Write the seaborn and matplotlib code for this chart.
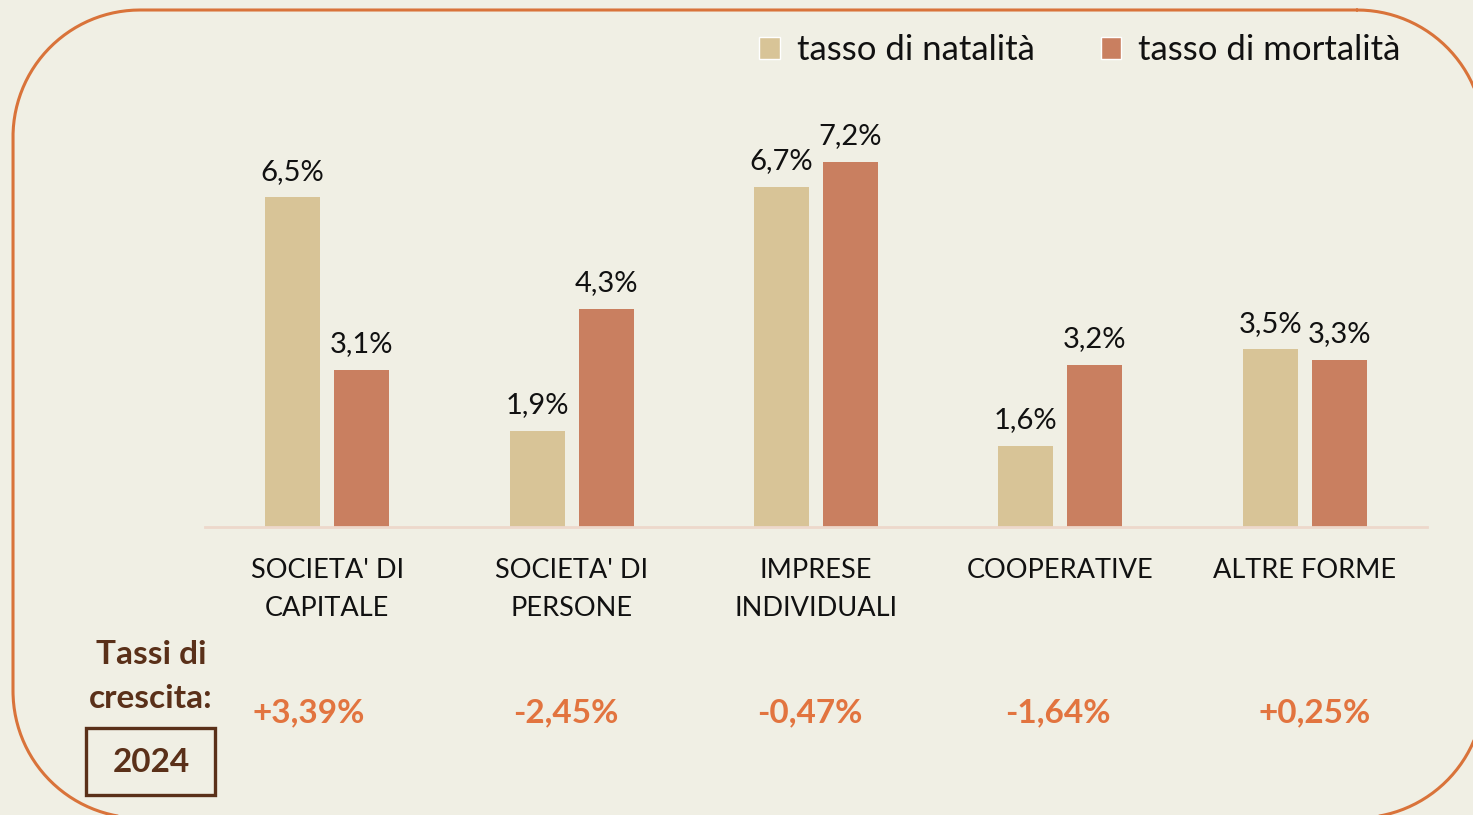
import matplotlib
matplotlib.use("Agg")
import matplotlib.pyplot as plt
from matplotlib.patches import Rectangle
import numpy as np
import seaborn as sns
import pandas as pd

# ---------------- data ----------------
categories = ["SOCIETA' DI\nCAPITALE", "SOCIETA' DI\nPERSONE", "IMPRESE\nINDIVIDUALI",
              "COOPERATIVE", "ALTRE FORME"]
natalita = [6.5, 1.9, 6.7, 1.6, 3.5]
mortalita = [3.1, 4.3, 7.2, 3.2, 3.3]
series_names = ["tasso di natalità", "tasso di mortalità"]
growth_labels = ["+3,39%", "-2,45%", "-0,47%", "-1,64%", "+0,25%"]
year_label = "2024"

# ---------------- style ----------------
BG = "#F0EFE4"
C_NAT = "#D8C497"
C_MOR = "#C97F60"
C_GROWTH = "#E2743F"
C_BORDER = "#D9733A"
C_BROWN = "#5A3019"
FONT = ["Lato", "DejaVu Sans"]

sns.set_theme(style="white")
plt.rcParams["font.family"] = FONT

W, H = 1473, 815
fig = plt.figure(figsize=(W / 100, H / 100), dpi=100)
fig.patch.set_facecolor(BG)

# background axis in pixel coordinates for the rounded frame
bg = fig.add_axes([0, 0, 1, 1], zorder=0)
bg.set_xlim(0, W)
bg.set_ylim(H, 0)
bg.axis("off")
bg.patch.set_alpha(0)


def rounded_rect(x0, y0, x1, y1, r, n=60):
    corners = [((x1 - r, y0 + r), -np.pi / 2, 0),
               ((x1 - r, y1 - r), 0, np.pi / 2),
               ((x0 + r, y1 - r), np.pi / 2, np.pi),
               ((x0 + r, y0 + r), np.pi, 1.5 * np.pi)]
    xs, ys = [], []
    for (cx, cy), a0, a1 in corners:
        t = np.linspace(a0, a1, n)
        xs.extend(cx + r * np.cos(t))
        ys.extend(cy + r * np.sin(t))
    xs.append(xs[0])
    ys.append(ys[0])
    return xs, ys


fx, fy = rounded_rect(13, 10, 1484, 818, 127)
bg.plot(fx, fy, color=C_BORDER, linewidth=2.2, solid_capstyle="round")

# main axis
ax = fig.add_axes([205 / W, (H - 527) / H, 1222 / W, 406 / H], zorder=1)
ax.patch.set_alpha(0)

df = pd.DataFrame({
    "categoria": categories * 2,
    "valore": natalita + mortalita,
    "serie": [series_names[0]] * len(categories) + [series_names[1]] * len(categories),
})

sns.barplot(data=df, x="categoria", y="valore", hue="serie", order=categories,
            hue_order=series_names, palette=[C_NAT, C_MOR], width=0.565, gap=0.2035,
            saturation=1, linewidth=0, ax=ax, legend=False)

ax.set_xlim(-0.5, len(categories) - 0.5)
ax.set_ylim(0, 8)
ax.set_xlabel("")
ax.set_ylabel("")
ax.set_yticks([])
for s in ["top", "right", "left"]:
    ax.spines[s].set_visible(False)
ax.spines["bottom"].set_color("#EDD8CB")
ax.spines["bottom"].set_linewidth(2)
ax.tick_params(axis="x", length=0, pad=22)
ax.set_xticks(range(len(categories)))
ax.set_xticklabels(categories, fontsize=19.5, color="#111111", linespacing=1.68,
                   va="top")

for cont in ax.containers:
    labels = [f"{v:.1f}".replace(".", ",") + "%" for v in cont.datavalues]
    ax.bar_label(cont, labels=labels, padding=9, fontsize=21, color="#111111")

# legend
handles = [Rectangle((0, 0), 1, 1, facecolor=C_NAT), Rectangle((0, 0), 1, 1, facecolor=C_MOR)]
fig.legend(handles, series_names, loc="center", ncol=2, frameon=False,
           bbox_to_anchor=(1080 / W, 1 - 50 / H), fontsize=25,
           handlelength=0.58, handleheight=0.58, handletextpad=0.5,
           columnspacing=1.9, labelcolor="#111111")

# growth rates
growth_nudge_px = [-19, -6, -6, -3, 10]
for i, (lab, dx) in enumerate(zip(growth_labels, growth_nudge_px)):
    xc = (205 + 244.4 * (i + 0.5) + dx) / W
    fig.text(xc, 1 - 713 / H, lab, ha="center", va="center", fontsize=24,
             fontweight="bold", color=C_GROWTH)

fig.text(151 / W, 1 - 655 / H, "Tassi di", ha="center", va="center", fontsize=24,
         fontweight="bold", color=C_BROWN)
fig.text(151 / W, 1 - 698 / H, "crescita:", ha="center", va="center", fontsize=24,
         fontweight="bold", color=C_BROWN)
bg.add_patch(Rectangle((86, 728), 215 - 86, 795 - 728, fill=False,
                       edgecolor=C_BROWN, linewidth=2.4))
fig.text(151 / W, 1 - 762 / H, year_label, ha="center", va="center", fontsize=24,
         fontweight="bold", color=C_BROWN)

fig.savefig("out.png", dpi=100, facecolor=BG)
